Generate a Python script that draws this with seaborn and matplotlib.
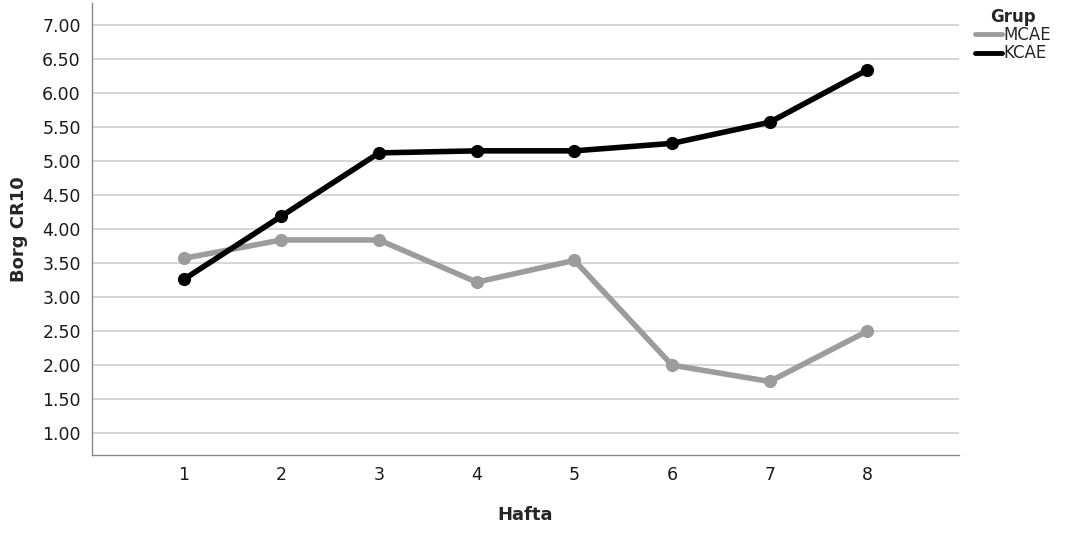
import pandas as pd
import matplotlib.pyplot as plt
import seaborn as sns

# values
weeks = [1, 2, 3, 4, 5, 6, 7, 8]
mcae = [3.57, 3.84, 3.84, 3.22, 3.54, 2.00, 1.76, 2.50]
kcae = [3.26, 4.19, 5.12, 5.15, 5.15, 5.26, 5.57, 6.34]
groups = ['MCAE', 'KCAE']
y_ticks = [1.0, 1.5, 2.0, 2.5, 3.0, 3.5, 4.0, 4.5, 5.0, 5.5, 6.0, 6.5, 7.0]

df = pd.DataFrame({
    'Hafta': weeks * 2,
    'Borg CR10': mcae + kcae,
    'Grup': [groups[0]] * len(weeks) + [groups[1]] * len(weeks),
})

sns.set_style('white')
plt.rcParams['font.family'] = ['DejaVu Sans']

fig = plt.figure(figsize=(10.68, 5.34), dpi=100)
ax = fig.add_axes([0.0861, 0.148, 0.812, 0.846])

palette = {'MCAE': '#9c9c9c', 'KCAE': '#000000'}
sns.lineplot(data=df, x='Hafta', y='Borg CR10', hue='Grup', hue_order=groups,
             palette=palette, marker='o', markersize=9.5, markeredgewidth=0,
             linewidth=4, ax=ax, legend=True)

ax.set_xlim(0.06, 8.94)
ax.set_ylim(0.68, 7.32)
ax.set_xticks(weeks)
ax.set_yticks(y_ticks)
ax.set_yticklabels([f'{v:.2f}' for v in y_ticks])
ax.yaxis.grid(True, color='#cfcfcf', linewidth=1.2)
ax.set_axisbelow(True)
for s in ['top', 'right']:
    ax.spines[s].set_visible(False)
for s in ['left', 'bottom']:
    ax.spines[s].set_color('#888888')
    ax.spines[s].set_linewidth(1.0)
ax.tick_params(axis='both', length=0, labelsize=12.5, colors='#1a1a1a', pad=8)
ax.set_xlabel('Hafta', fontsize=13, fontweight='bold', labelpad=16)
ax.set_ylabel('Borg CR10', fontsize=13, fontweight='bold', labelpad=10)

leg = ax.legend(title='Grup', loc='upper left', bbox_to_anchor=(0.907, 0.998),
                bbox_transform=fig.transFigure, frameon=False, fontsize=12,
                title_fontproperties={'weight': 'bold', 'size': 12},
                handlelength=1.6, handletextpad=0.1, labelspacing=0.02,
                borderaxespad=0)
for h in leg.legend_handles:
    h.set_marker('')
    h.set_linewidth(3.5)

fig.savefig('out.png', dpi=100)
